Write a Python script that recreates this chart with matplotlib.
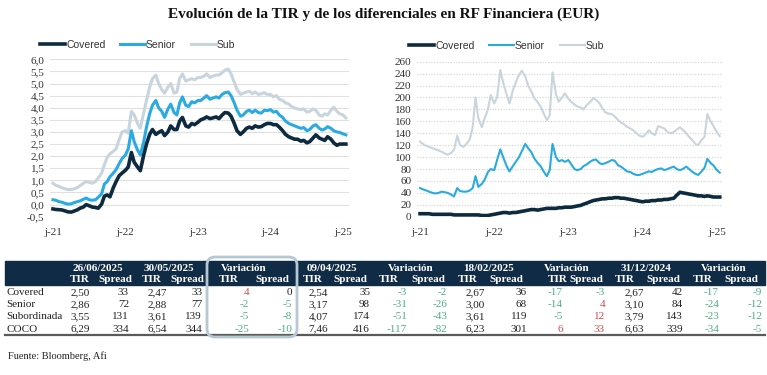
import numpy as np
import pandas as pd
import matplotlib
matplotlib.use('Agg')
import matplotlib.pyplot as plt
import matplotlib.dates as mdates
from matplotlib.patches import Rectangle, FancyBboxPatch
from matplotlib.lines import Line2D
from matplotlib.ticker import FuncFormatter, MultipleLocator

# ---------------- data ----------------
dates = pd.date_range('2021-06-01', periods=98, freq='SMS')

tir_covered = [-0.18, -0.20, -0.21, -0.22, -0.26, -0.30, -0.31, -0.27, -0.22, -0.15,
               -0.10, 0.00, -0.05, -0.10, -0.12, -0.15, 0.02, 0.35, 0.40, 0.32,
               0.70, 0.95, 1.20, 1.30, 1.42, 1.55, 2.15, 1.75, 1.55, 1.40,
               2.05, 2.50, 2.90, 3.10, 2.90, 2.98, 3.05, 2.85, 3.00, 3.25,
               3.10, 3.10, 3.45, 3.60, 3.25, 3.20, 3.35, 3.30, 3.40, 3.50,
               3.55, 3.62, 3.55, 3.58, 3.62, 3.55, 3.70, 3.80, 3.78, 3.65,
               3.35, 3.05, 2.90, 3.00, 3.15, 3.20, 3.15, 3.25, 3.20, 3.22,
               3.30, 3.35, 3.35, 3.30, 3.30, 3.20, 3.05, 2.90, 2.80, 2.75,
               2.70, 2.70, 2.62, 2.65, 2.55, 2.60, 2.75, 2.88, 2.75, 2.70,
               2.65, 2.80, 2.70, 2.55, 2.45, 2.50, 2.50, 2.50]
tir_senior = [0.20, 0.18, 0.12, 0.10, 0.05, 0.02, 0.03, 0.08, 0.12, 0.15,
              0.22, 0.27, 0.20, 0.18, 0.20, 0.30, 0.45, 0.85, 0.95, 1.15,
              1.30, 1.45, 1.70, 1.90, 2.05, 2.30, 3.05, 2.60, 2.25, 2.05,
              2.60, 3.20, 3.75, 4.10, 4.30, 4.00, 3.85, 3.60, 3.95, 4.15,
              3.80, 3.70, 4.20, 4.45, 4.10, 4.05, 4.25, 4.20, 4.30, 4.30,
              4.40, 4.50, 4.35, 4.40, 4.45, 4.40, 4.55, 4.62, 4.65, 4.50,
              4.20, 3.90, 3.65, 3.70, 3.85, 3.90, 3.80, 3.90, 3.80, 3.78,
              3.90, 3.88, 3.92, 3.82, 3.85, 3.70, 3.60, 3.45, 3.35, 3.30,
              3.25, 3.20, 3.15, 3.18, 3.05, 3.10, 3.25, 3.30, 3.15, 3.08,
              3.12, 3.22, 3.15, 3.05, 3.00, 2.98, 2.92, 2.88]
tir_sub = [0.88, 0.80, 0.75, 0.70, 0.65, 0.62, 0.62, 0.65, 0.70, 0.78,
           0.88, 0.95, 0.92, 0.88, 0.95, 1.10, 1.30, 1.65, 1.95, 2.10,
           2.20, 2.30, 2.70, 3.00, 3.05, 2.95, 3.85, 3.70, 3.35, 3.15,
           3.80, 4.30, 4.85, 5.20, 5.35, 5.00, 4.75, 4.60, 4.85, 5.00,
           4.60, 4.65, 5.20, 5.40, 5.10, 5.15, 5.20, 5.15, 5.25, 5.25,
           5.30, 5.40, 5.25, 5.30, 5.35, 5.35, 5.45, 5.55, 5.60, 5.40,
           5.05, 4.75, 4.55, 4.60, 4.65, 4.68, 4.58, 4.65, 4.55, 4.58,
           4.62, 4.55, 4.55, 4.45, 4.50, 4.35, 4.30, 4.20, 4.15, 4.05,
           3.98, 3.95, 3.92, 3.95, 3.82, 3.85, 3.95, 3.90, 3.70, 3.65,
           3.75, 3.70, 3.90, 4.02, 3.85, 3.75, 3.70, 3.58]

spr_covered = [5, 5, 5, 5, 4, 4, 4, 4, 4, 4,
               4, 3, 3, 3, 3, 3, 3, 3, 3, 3,
               2, 2, 2, 3, 4, 5, 6, 7, 7, 6,
               7, 7, 8, 9, 10, 11, 12, 12, 11, 12,
               13, 14, 14, 14, 14, 15, 15, 16, 16, 16,
               17, 18, 19, 21, 23, 25, 27, 28, 29, 30,
               30, 31, 31, 32, 32, 31, 31, 30, 29, 28,
               27, 26, 25, 26, 26, 27, 27, 28, 28, 29,
               29, 30, 31, 36, 41, 40, 39, 38, 37, 36,
               35, 35, 34, 35, 34, 33, 33, 33]
spr_senior = [48, 46, 44, 42, 40, 39, 40, 42, 41, 40,
              37, 34, 48, 43, 42, 42, 44, 48, 68, 50,
              55, 62, 75, 80, 78, 95, 113, 100, 85, 76,
              85, 92, 100, 110, 122, 115, 108, 98, 90, 85,
              75, 68, 78, 122, 100, 93, 95, 92, 95, 88,
              80, 78, 80, 85, 88, 92, 95, 96, 90, 88,
              90, 92, 95, 94, 86, 84, 80, 76, 75, 72,
              70, 70, 72, 74, 76, 75, 78, 80, 81, 78,
              80, 82, 84, 80, 78, 80, 84, 80, 75, 72,
              70, 75, 82, 97, 90, 86, 78, 74]
spr_sub = [126, 122, 119, 117, 115, 113, 111, 109, 106, 104,
           107, 112, 136, 120, 117, 122, 130, 150, 200, 165,
           150, 165, 180, 204, 190, 200, 246, 225, 205, 190,
           212, 225, 238, 245, 235, 220, 210, 199, 192, 185,
           172, 162, 170, 242, 205, 193, 200, 207, 198, 193,
           188, 185, 183, 180, 188, 192, 199, 196, 190, 182,
           175, 173, 172, 168, 162, 158, 155, 151, 148, 145,
           140, 136, 134, 138, 145, 140, 137, 152, 150, 148,
           142, 140, 142, 146, 150, 146, 140, 134, 128, 122,
           120, 128, 134, 172, 160, 152, 142, 135]

series_names = ['Covered', 'Senior', 'Sub']

# table
row_labels = ['Covered', 'Senior', 'Subordinada', 'COCO']
group_titles = ['26/06/2025', '30/05/2025', 'Variación', '09/04/2025', 'Variación',
                '18/02/2025', 'Variación', '31/12/2024', 'Variación']
tir_2606 = [2.50, 2.86, 3.55, 6.29]
spr_2606 = [33, 72, 131, 334]
tir_3005 = [2.47, 2.88, 3.61, 6.54]
spr_3005 = [33, 77, 139, 344]
var1_tir = [4, -2, -5, -25]
var1_spr = [0, -5, -8, -10]
tir_0904 = [2.54, 3.17, 4.07, 7.46]
spr_0904 = [35, 98, 174, 416]
var2_tir = [-3, -31, -51, -117]
var2_spr = [-2, -26, -43, -82]
tir_1802 = [2.67, 3.00, 3.61, 6.23]
spr_1802 = [36, 68, 119, 301]
var3_tir = [-17, -14, -5, 6]
var3_spr = [-3, 4, 12, 33]
tir_3112 = [2.67, 3.10, 3.79, 6.63]
spr_3112 = [42, 84, 143, 339]
var4_tir = [-17, -24, -23, -34]
var4_spr = [-9, -12, -12, -5]

# ---------------- figure ----------------
W, H = 767, 375
fig = plt.figure(figsize=(W / 100, H / 100), dpi=100)
fig.patch.set_facecolor('white')

def fx(x):
    return x / W

def fy(y):
    return 1 - y / H

colors = ['#0d2a3f', '#29abe2', '#c8d5dd']
serif = ['Liberation Serif', 'DejaVu Serif']
sans = ['Liberation Sans', 'DejaVu Sans']
tfs = 8  # table font size

ax1 = fig.add_axes([fx(50), fy(216.7), fx(349) - fx(50), fy(59.3) - fy(216.7)])
ax2 = fig.add_axes([fx(417), fy(216.7), fx(723) - fx(417), fy(61.7) - fy(216.7)])

for ax, data, lws, lgx, lgy in [
        (ax1, [tir_covered, tir_senior, tir_sub], [2.6, 2.2, 2.2], 40, 45),
        (ax2, [spr_covered, spr_senior, spr_sub], [2.6, 1.5, 1.5], 409, 46)]:
    for i in [2, 1, 0]:
        ax.plot(dates, data[i], color=colors[i], lw=lws[i], label=series_names[i],
                solid_joinstyle='round', zorder=3 + (2 - i))
    for s in ax.spines.values():
        s.set_visible(False)
    ax.tick_params(length=0, labelsize=8, colors='#333333')
    ax.tick_params(axis='x', pad=8)
    ax.tick_params(axis='y', pad=4)
    ax.xaxis.set_major_locator(mdates.MonthLocator(bymonth=6, bymonthday=1))
    ax.xaxis.set_major_formatter(FuncFormatter(lambda v, p: 'j-' + mdates.num2date(v).strftime('%y')))
    ax.set_xlim(pd.Timestamp('2021-05-17'), pd.Timestamp('2025-07-01'))
    h, l = ax.get_legend_handles_labels()
    order = [l.index(n) for n in series_names]
    leg = ax.legend([h[o] for o in order], [l[o] for o in order], ncol=3, frameon=False,
                    loc='center left', bbox_to_anchor=(fx(lgx), fy(lgy)),
                    bbox_transform=fig.transFigure, handlelength=2.4, handletextpad=0.1,
                    columnspacing=1.4, borderaxespad=0, borderpad=0,
                    prop={'family': sans, 'size': 7.5})
    for t in leg.get_texts():
        t.set_color('#333333')

ax1.set_ylim(-0.5, 6.0)
ax1.yaxis.set_major_locator(MultipleLocator(0.5))
ax1.yaxis.set_major_formatter(FuncFormatter(lambda v, p: f'{v:.1f}'.replace('.', ',')))
ax1.grid(axis='y', color='#e0e0e0', lw=0.8, zorder=0)

ax2.set_ylim(0, 260)
ax2.yaxis.set_major_locator(MultipleLocator(20))
ax2.yaxis.set_major_formatter(FuncFormatter(lambda v, p: f'{v:.0f}'))
ax2.grid(axis='y', color='#cfcfcf', lw=0.8, ls=(0, (1, 1.5)), zorder=0)

for ax in (ax1, ax2):
    for lab in ax.get_xticklabels() + ax.get_yticklabels():
        lab.set_family(serif)

# title
fig.text(0.5, fy(14), 'Evolución de la TIR y de los diferenciales en RF Financiera (EUR)',
         ha='center', va='center', fontsize=11, fontweight='bold', family=serif, color='#111111')

# ---------------- table ----------------
fig.add_artist(Rectangle((fx(5), fy(285)), fx(765) - fx(5), fy(261) - fy(285),
                         transform=fig.transFigure, color='#0f2b45', zorder=1))

group_x = [97.5, 169, 244, 332, 411, 489, 567, 646, 724]
sub_x = [80, 115, 151.5, 187, 228.5, 272, 312.5, 350, 389, 428,
         467.5, 506.7, 557.5, 586, 624.5, 663, 702.5, 741.7]
col_r = [90, 129, 167, 202, 249, 292, 328, 370, 407, 447, 485, 527, 563, 605, 644, 683, 719, 762]
row_y = [292.3, 304.3, 316.7, 329]

for g, x in zip(group_titles, group_x):
    fig.text(fx(x), fy(268.5), g, ha='center', va='center', color='white',
             fontsize=tfs, fontweight='bold', family=serif, zorder=2)
for i, x in enumerate(sub_x):
    fig.text(fx(x), fy(279.5), 'TIR' if i % 2 == 0 else 'Spread', ha='center', va='center',
             color='white', fontsize=tfs, fontweight='bold', family=serif, zorder=2)

columns = [tir_2606, spr_2606, tir_3005, spr_3005, var1_tir, var1_spr,
           tir_0904, spr_0904, var2_tir, var2_spr, tir_1802, spr_1802,
           var3_tir, var3_spr, tir_3112, spr_3112, var4_tir, var4_spr]
is_var = [False, False, False, False, True, True, False, False, True, True,
          False, False, True, True, False, False, True, True]

for r, (lab, y) in enumerate(zip(row_labels, row_y)):
    fig.text(fx(6), fy(y), lab, ha='left', va='center', fontsize=tfs, family=serif, color='#222222')
    for c, col in enumerate(columns):
        v = col[r]
        if isinstance(v, float):
            s = f'{v:.2f}'.replace('.', ',')
        else:
            s = f'{v:d}'
        color = '#222222'
        if is_var[c]:
            if v > 0:
                color = '#e0464b'
            elif v < 0:
                color = '#4daf80'
        fig.text(fx(col_r[c]), fy(y), s, ha='right', va='center', fontsize=tfs,
                 family=serif, color=color)

fig.add_artist(Line2D([fx(5), fx(765)], [fy(335), fy(335)], transform=fig.transFigure,
                      color='#5a5a5a', lw=1.6))

fig.add_artist(FancyBboxPatch((fx(207), fy(337)), fx(297) - fx(207), fy(257) - fy(337),
                              boxstyle=f'round,pad=0,rounding_size={8 / W}',
                              mutation_aspect=W / H, transform=fig.transFigure,
                              fill=False, edgecolor='#b6c8d3', lw=2, zorder=5))

fig.text(fx(8), fy(356), 'Fuente: Bloomberg, Afi', ha='left', va='center', fontsize=7.5,
         family=serif, color='#222222')

fig.savefig('out.png', dpi=100, facecolor='white')
